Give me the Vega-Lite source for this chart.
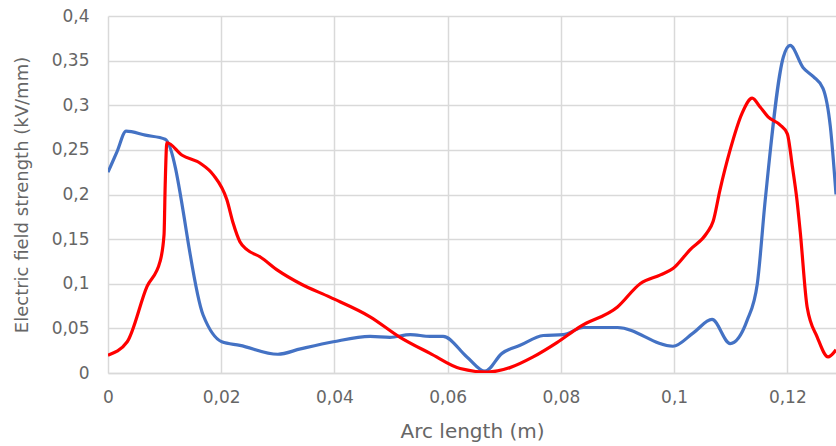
{
  "$schema": "https://vega.github.io/schema/vega-lite/v6.json",
  "autosize": {"type": "none"},
  "width": 728,
  "height": 357,
  "padding": {"left": 108, "top": 16, "right": 0, "bottom": 73},
  "background": "white",
  "config": {
    "view": {"stroke": null},
    "font": "DejaVu Sans",
    "axis": {
      "labelFont": "DejaVu Sans",
      "titleFont": "DejaVu Sans",
      "labelColor": "#666666",
      "titleColor": "#666666",
      "labelFontSize": 17,
      "titleFontSize": 18,
      "titleFontWeight": "normal",
      "gridColor": "#d9d9d9",
      "gridWidth": 1.5,
      "ticks": false,
      "labelFlush": false
    }
  },
  "data": {
    "values": [
      {"s": "blue", "x": 0.0, "y": 0.225},
      {"s": "blue", "x": 0.0016, "y": 0.248},
      {"s": "blue", "x": 0.0032, "y": 0.271},
      {"s": "blue", "x": 0.0066, "y": 0.2665},
      {"s": "blue", "x": 0.0101, "y": 0.262},
      {"s": "blue", "x": 0.0168, "y": 0.065},
      {"s": "blue", "x": 0.0201, "y": 0.035},
      {"s": "blue", "x": 0.0233, "y": 0.031},
      {"s": "blue", "x": 0.030, "y": 0.021},
      {"s": "blue", "x": 0.034, "y": 0.027},
      {"s": "blue", "x": 0.0398, "y": 0.035},
      {"s": "blue", "x": 0.0463, "y": 0.041},
      {"s": "blue", "x": 0.0498, "y": 0.040},
      {"s": "blue", "x": 0.0534, "y": 0.043},
      {"s": "blue", "x": 0.0569, "y": 0.041},
      {"s": "blue", "x": 0.0592, "y": 0.041},
      {"s": "blue", "x": 0.0634, "y": 0.018},
      {"s": "blue", "x": 0.0666, "y": 0.002},
      {"s": "blue", "x": 0.0696, "y": 0.022},
      {"s": "blue", "x": 0.0728, "y": 0.031},
      {"s": "blue", "x": 0.0769, "y": 0.042},
      {"s": "blue", "x": 0.0804, "y": 0.043},
      {"s": "blue", "x": 0.0840, "y": 0.051},
      {"s": "blue", "x": 0.0900, "y": 0.051},
      {"s": "blue", "x": 0.0998, "y": 0.030},
      {"s": "blue", "x": 0.1034, "y": 0.045},
      {"s": "blue", "x": 0.1067, "y": 0.060},
      {"s": "blue", "x": 0.1099, "y": 0.033},
      {"s": "blue", "x": 0.1129, "y": 0.059},
      {"s": "blue", "x": 0.1147, "y": 0.100},
      {"s": "blue", "x": 0.1161, "y": 0.194},
      {"s": "blue", "x": 0.1193, "y": 0.354},
      {"s": "blue", "x": 0.1205, "y": 0.367},
      {"s": "blue", "x": 0.1228, "y": 0.342},
      {"s": "blue", "x": 0.1246, "y": 0.332},
      {"s": "blue", "x": 0.1263, "y": 0.319},
      {"s": "blue", "x": 0.1276, "y": 0.276},
      {"s": "blue", "x": 0.1286, "y": 0.200},
      {"s": "red", "x": 0.0, "y": 0.020},
      {"s": "red", "x": 0.0034, "y": 0.035},
      {"s": "red", "x": 0.0069, "y": 0.097},
      {"s": "red", "x": 0.0092, "y": 0.125},
      {"s": "red", "x": 0.0099, "y": 0.155},
      {"s": "red", "x": 0.0101, "y": 0.210},
      {"s": "red", "x": 0.0104, "y": 0.258},
      {"s": "red", "x": 0.0131, "y": 0.244},
      {"s": "red", "x": 0.0163, "y": 0.235},
      {"s": "red", "x": 0.0186, "y": 0.222},
      {"s": "red", "x": 0.0210, "y": 0.194},
      {"s": "red", "x": 0.0221, "y": 0.168},
      {"s": "red", "x": 0.0233, "y": 0.147},
      {"s": "red", "x": 0.0246, "y": 0.138},
      {"s": "red", "x": 0.0269, "y": 0.130},
      {"s": "red", "x": 0.0300, "y": 0.115},
      {"s": "red", "x": 0.0340, "y": 0.100},
      {"s": "red", "x": 0.0392, "y": 0.085},
      {"s": "red", "x": 0.0463, "y": 0.063},
      {"s": "red", "x": 0.0516, "y": 0.040},
      {"s": "red", "x": 0.0569, "y": 0.022},
      {"s": "red", "x": 0.0622, "y": 0.005},
      {"s": "red", "x": 0.0670, "y": 0.001},
      {"s": "red", "x": 0.0710, "y": 0.006},
      {"s": "red", "x": 0.0751, "y": 0.018},
      {"s": "red", "x": 0.0793, "y": 0.034},
      {"s": "red", "x": 0.0834, "y": 0.052},
      {"s": "red", "x": 0.0900, "y": 0.074},
      {"s": "red", "x": 0.0940, "y": 0.100},
      {"s": "red", "x": 0.0976, "y": 0.110},
      {"s": "red", "x": 0.0998, "y": 0.117},
      {"s": "red", "x": 0.1028, "y": 0.138},
      {"s": "red", "x": 0.1058, "y": 0.157},
      {"s": "red", "x": 0.1069, "y": 0.170},
      {"s": "red", "x": 0.1081, "y": 0.205},
      {"s": "red", "x": 0.1099, "y": 0.250},
      {"s": "red", "x": 0.1120, "y": 0.291},
      {"s": "red", "x": 0.1138, "y": 0.308},
      {"s": "red", "x": 0.1152, "y": 0.298},
      {"s": "red", "x": 0.1166, "y": 0.287},
      {"s": "red", "x": 0.1187, "y": 0.278},
      {"s": "red", "x": 0.1200, "y": 0.268},
      {"s": "red", "x": 0.1209, "y": 0.231},
      {"s": "red", "x": 0.1217, "y": 0.194},
      {"s": "red", "x": 0.1223, "y": 0.157},
      {"s": "red", "x": 0.1235, "y": 0.074},
      {"s": "red", "x": 0.1253, "y": 0.040},
      {"s": "red", "x": 0.1272, "y": 0.018},
      {"s": "red", "x": 0.1286, "y": 0.026}
    ]
  },
  "mark": {"type": "line", "interpolate": "monotone", "strokeWidth": 3.2, "clip": true},
  "encoding": {
    "x": {
      "field": "x",
      "type": "quantitative",
      "scale": {"domain": [0, 0.1286], "nice": false, "zero": false},
      "axis": {
        "values": [0, 0.02, 0.04, 0.06, 0.08, 0.1, 0.12],
        "format": "~g",
        "labelExpr": "replace(datum.label, '.', ',')",
        "title": "Arc length (m)",
        "titleFontSize": 20,
        "labelPadding": 16,
        "titlePadding": 16,
        "domainColor": "#d9d9d9",
        "domainWidth": 1.5
      }
    },
    "y": {
      "field": "y",
      "type": "quantitative",
      "scale": {"domain": [0, 0.4], "nice": false},
      "axis": {
        "values": [0, 0.05, 0.1, 0.15, 0.2, 0.25, 0.3, 0.35, 0.4],
        "format": "~g",
        "labelExpr": "replace(datum.label, '.', ',')",
        "title": "Electric field strength (kV/mm)",
        "labelPadding": 19,
        "titlePadding": 20,
        "domain": false
      }
    },
    "color": {
      "field": "s",
      "type": "nominal",
      "scale": {"domain": ["blue", "red"], "range": ["#4472C4", "#FF0000"]},
      "legend": null
    },
    "order": {"field": "x", "type": "quantitative"}
  }
}
